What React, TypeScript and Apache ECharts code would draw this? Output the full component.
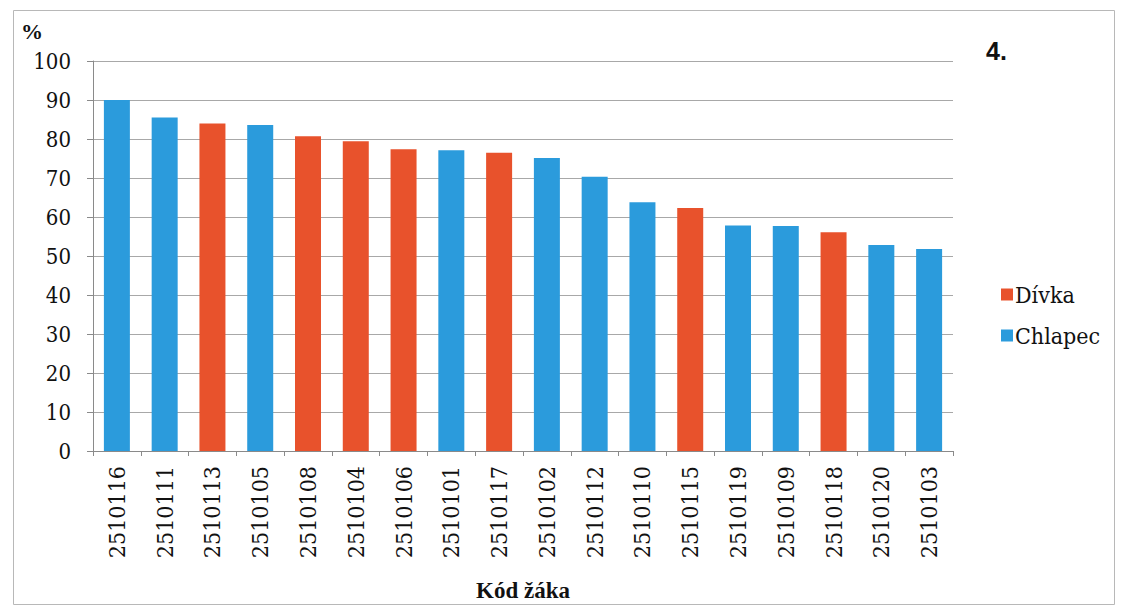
import React, { useEffect, useRef } from "react";
import * as echarts from "echarts";

const categories = [
  "2510116", "2510111", "2510113", "2510105", "2510108", "2510104",
  "2510106", "2510101", "2510117", "2510102", "2510112", "2510110",
  "2510115", "2510119", "2510109", "2510118", "2510120", "2510103",
];
const values = [90, 85.5, 84, 83.6, 80.7, 79.4, 77.4, 77.1, 76.5, 75.1, 70.3, 63.8, 62.3, 57.8, 57.7, 56.1, 52.8, 51.8];
const gender = ["C", "C", "D", "C", "D", "D", "D", "C", "D", "C", "C", "C", "D", "C", "C", "D", "C", "C"];
const yTicks = { min: 0, max: 100, interval: 10 };
const seriesNames = ["Dívka", "Chlapec"];
const xAxisName = "Kód žáka";
const yAxisName = "%";
const panelTitle = "4.";

const RED = "#E8522C";
const BLUE = "#2B9BDC";
const SERIF = "Liberation Serif";
const SERIF_REG = "DejaVu Serif Condensed, DejaVu Serif";

export default function App() {
  const ref = useRef<HTMLDivElement>(null);
  useEffect(() => {
    if (!ref.current) return;
    const chart = echarts.init(ref.current, undefined, { renderer: "svg" });
    const girls = values.map((v, i) => (gender[i] === "D" ? v : "-"));
    const boys = values.map((v, i) => (gender[i] === "C" ? v : "-"));
    chart.setOption({
      animation: false,
      backgroundColor: "#ffffff",
      grid: { left: 93, right: 194, top: 61, bottom: 158, containLabel: false },
      legend: {
        orient: "vertical",
        left: 996,
        top: 278,
        itemWidth: 12,
        itemHeight: 12,
        itemGap: 18,
        icon: "rect",
        data: seriesNames,
        textStyle: { fontFamily: SERIF_REG, fontSize: 23, color: "#111", padding: [0, 0, 0, -3] },
      },
      xAxis: {
        type: "category",
        data: categories,
        name: xAxisName,
        nameLocation: "middle",
        nameGap: 128,
        nameTextStyle: { fontFamily: SERIF, fontSize: 23, fontWeight: "bold", color: "#111" },
        axisLine: { lineStyle: { color: "#8a8a8a" } },
        axisTick: { show: true, length: 5, lineStyle: { color: "#8a8a8a" } },
        axisLabel: { rotate: 90, fontFamily: SERIF_REG, fontSize: 23, color: "#111", margin: 15 },
      },
      yAxis: {
        type: "value",
        min: yTicks.min,
        max: yTicks.max,
        interval: yTicks.interval,
        axisLine: { show: true, lineStyle: { color: "#8a8a8a" } },
        axisTick: { show: true, length: 6, lineStyle: { color: "#8a8a8a" } },
        axisLabel: { fontFamily: SERIF_REG, fontSize: 22, color: "#111", margin: 22 },
        splitLine: { lineStyle: { color: "#a8a8a8", width: 1 } },
      },
      series: [
        {
          name: seriesNames[0],
          type: "bar",
          stack: "all",
          data: girls,
          barWidth: 26,
          itemStyle: { color: RED },
        },
        {
          name: seriesNames[1],
          type: "bar",
          stack: "all",
          data: boys,
          barWidth: 26,
          itemStyle: { color: BLUE },
        },
      ],
      graphic: [
        {
          type: "rect",
          shape: { x: 13.5, y: 10.5, width: 1101, height: 594 },
          style: { fill: "none", stroke: "#b8b8b8", lineWidth: 1 },
          silent: true,
        },
        {
          type: "text",
          left: 21,
          top: 20,
          style: { text: yAxisName, fontFamily: SERIF, fontSize: 22, fontWeight: "bold", fill: "#111" },
        },
        {
          type: "text",
          left: 986,
          top: 38,
          style: { text: panelTitle, fontFamily: "Liberation Sans", fontSize: 25, fontWeight: "bold", fill: "#111" },
        },
      ],
    });
    return () => chart.dispose();
  }, []);
  return <div ref={ref} style={{ position: "fixed", left: 0, top: 0, width: 1147, height: 609 }} />;
}
